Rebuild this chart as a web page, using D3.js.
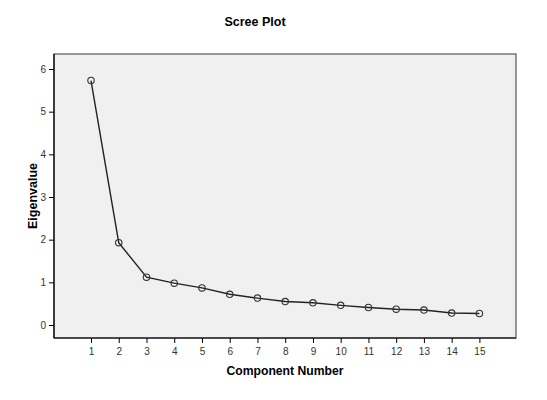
<!DOCTYPE html>
<html><head><meta charset="utf-8">
<script src="https://cdn.jsdelivr.net/npm/d3@7"></script>
<style>body{margin:0;background:#fff}svg{display:block}</style>
</head><body>
<svg id="c" width="547" height="400"></svg>
<script>
const components = [1,2,3,4,5,6,7,8,9,10,11,12,13,14,15];
const eigenvalues = [5.73,1.93,1.12,0.98,0.87,0.72,0.63,0.55,0.52,0.46,0.41,0.37,0.35,0.28,0.27];
const yTicks = [0,1,2,3,4,5,6];

const svg = d3.select("#c");
const frame = {l:54, t:54, r:516, b:338};
const x = d3.scaleLinear().domain([1,15]).range([91,479.4]);
const y = d3.scaleLinear().domain([0,6]).range([325,69]);

svg.append("rect").attr("x",frame.l).attr("y",frame.t)
  .attr("width",frame.r-frame.l).attr("height",frame.b-frame.t)
  .attr("fill","#f0f0f0").attr("stroke","#555").attr("stroke-width",1.2);

const font = "Arial, 'Liberation Sans', sans-serif";

const ya = svg.append("g").attr("transform",`translate(${frame.l},0)`)
  .call(d3.axisLeft(y).tickValues(yTicks).tickSize(5).tickFormat(d3.format("d")));
ya.select(".domain").remove();
ya.append("line").attr("x1",0).attr("x2",0).attr("y1",frame.t).attr("y2",frame.b).attr("stroke","#000").attr("stroke-width",1.2);
ya.selectAll("text").attr("font-family",font).attr("font-size",10).attr("fill","#333");

const xa = svg.append("g").attr("transform",`translate(0,${frame.b})`)
  .call(d3.axisBottom(x).tickValues(components).tickSize(5).tickFormat(d3.format("d")));
xa.select(".domain").remove();
xa.append("line").attr("x1",frame.l).attr("x2",frame.r).attr("y1",0).attr("y2",0).attr("stroke","#000").attr("stroke-width",1.2);
xa.selectAll("text").attr("font-family",font).attr("font-size",10).attr("fill","#333").attr("dy","0.85em");

const data = components.map((c,i)=>({c, v:eigenvalues[i]}));
svg.append("path").datum(data)
  .attr("d", d3.line().x(d=>x(d.c)).y(d=>y(d.v)))
  .attr("fill","none").attr("stroke","#222").attr("stroke-width",1.4);
svg.selectAll("circle.pt").data(data).join("circle")
  .attr("class","pt").attr("cx",d=>x(d.c)).attr("cy",d=>y(d.v)).attr("r",3.2)
  .attr("fill","none").attr("stroke","#333").attr("stroke-width",1.1);

svg.append("text").attr("x",255).attr("y",26).attr("text-anchor","middle")
  .attr("font-family",font).attr("font-weight","bold").attr("font-size",12.5).text("Scree Plot");
svg.append("text").attr("x",285).attr("y",375).attr("text-anchor","middle")
  .attr("font-family",font).attr("font-weight","bold").attr("font-size",12.2).text("Component Number");
svg.append("text").attr("transform","translate(37,196) rotate(-90)").attr("text-anchor","middle")
  .attr("font-family",font).attr("font-weight","bold").attr("font-size",12.5).text("Eigenvalue");
</script>
</body></html>
